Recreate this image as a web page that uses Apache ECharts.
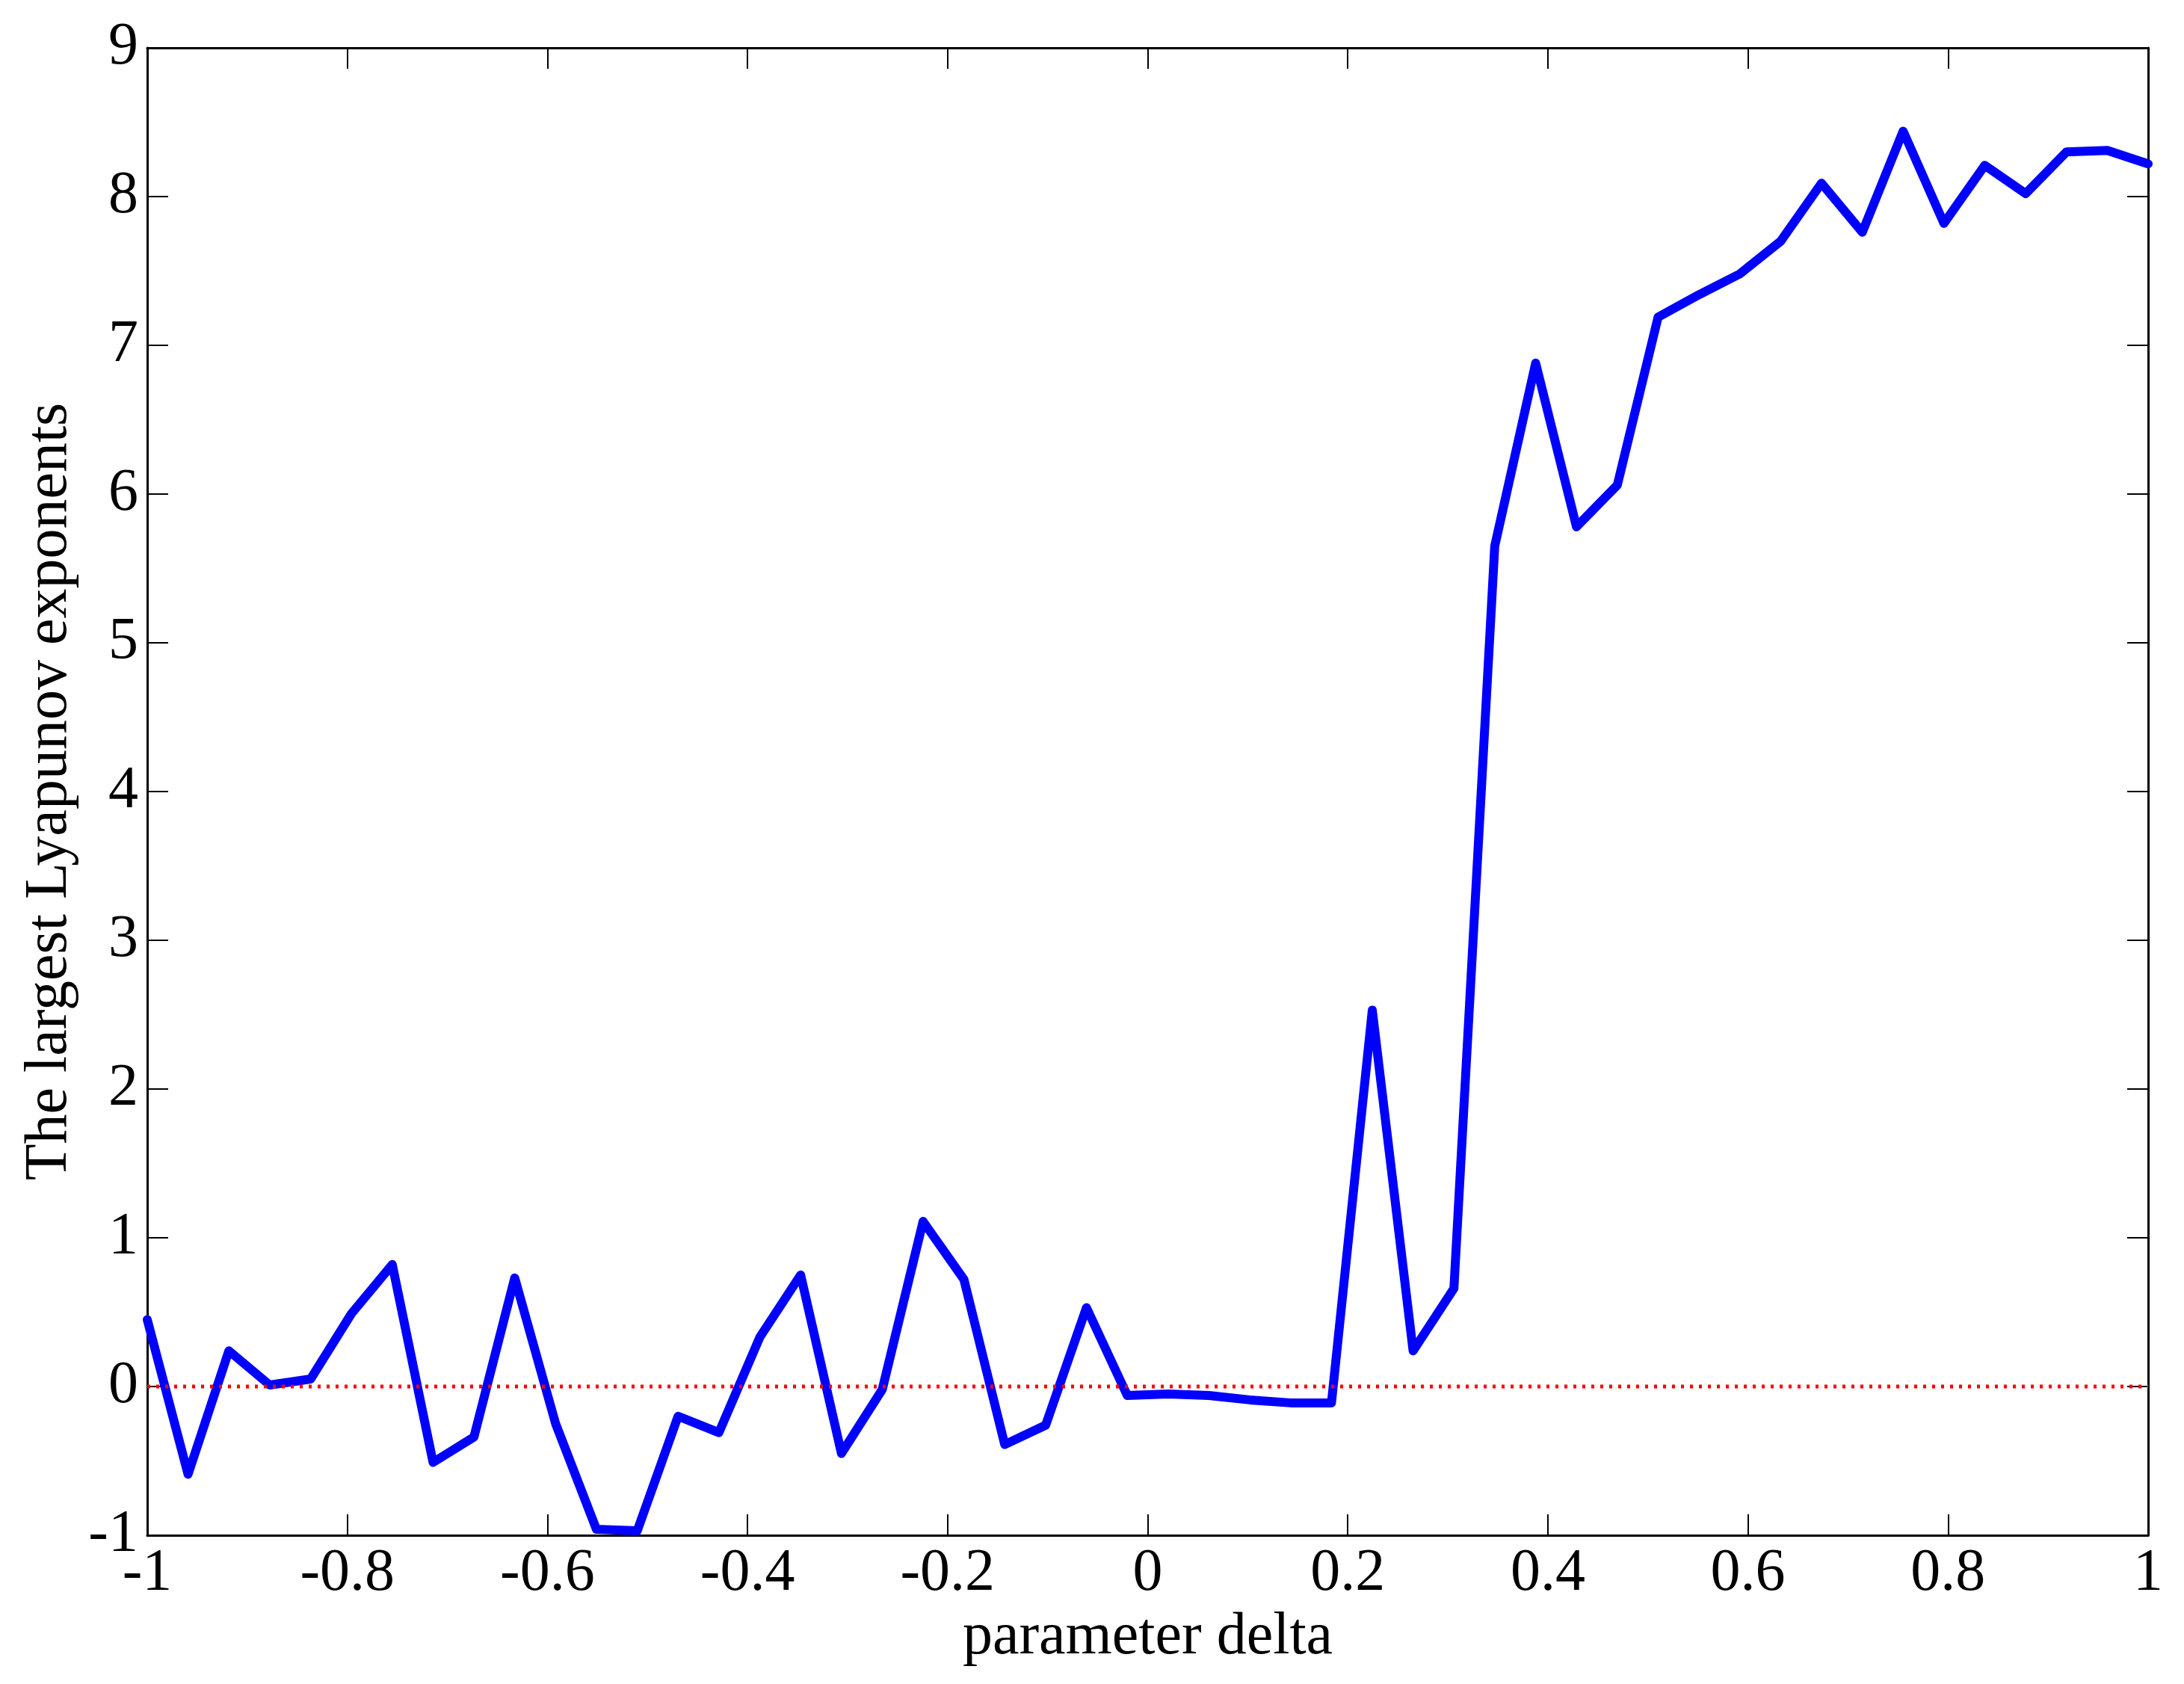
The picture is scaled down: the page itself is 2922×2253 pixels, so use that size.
<!DOCTYPE html>
<html><head><meta charset="utf-8">
<script src="https://cdn.jsdelivr.net/npm/echarts@6/dist/echarts.min.js"></script>
<style>html,body{margin:0;padding:0;background:#fff}#chart{width:2922px;height:2253px}</style>
</head><body><div id="chart"></div>
<script>
// parameter delta (50 samples from -1 to 1)
const deltaValues = [-1.0000, -0.9592, -0.9184, -0.8776, -0.8367, -0.7959, -0.7551, -0.7143, -0.6735, -0.6327,
  -0.5918, -0.5510, -0.5102, -0.4694, -0.4286, -0.3878, -0.3469, -0.3061, -0.2653, -0.2245,
  -0.1837, -0.1429, -0.1020, -0.0612, -0.0204, 0.0204, 0.0612, 0.1020, 0.1429, 0.1837,
  0.2245, 0.2653, 0.3061, 0.3469, 0.3878, 0.4286, 0.4694, 0.5102, 0.5510, 0.5918,
  0.6327, 0.6735, 0.7143, 0.7551, 0.7959, 0.8367, 0.8776, 0.9184, 0.9592, 1.0000];
// largest Lyapunov exponent
const lyapunovValues = [0.45, -0.59, 0.24, 0.01, 0.05, 0.49, 0.82, -0.51, -0.34, 0.73,
  -0.25, -0.96, -0.97, -0.20, -0.31, 0.33, 0.75, -0.45, -0.02, 1.11,
  0.72, -0.39, -0.26, 0.53, -0.06, -0.05, -0.06, -0.09, -0.11, -0.11,
  2.53, 0.24, 0.66, 5.65, 6.88, 5.78, 6.06, 7.19, 7.34, 7.48,
  7.70, 8.09, 7.76, 8.44, 7.82, 8.21, 8.02, 8.30, 8.31, 8.22];
// zero reference line
const zeroLineX = [-1, 1];
const zeroLineY = [0, 0];
// axes
const xTickLabels = ['-1', '-0.8', '-0.6', '-0.4', '-0.2', '0', '0.2', '0.4', '0.6', '0.8', '1'];
const yTickLabels = ['-1', '0', '1', '2', '3', '4', '5', '6', '7', '8', '9'];
const xTitle = 'parameter delta';
const yTitle = 'The largest Lyapunov exponents';

const FONT = 'Liberation Serif';
const chart = echarts.init(document.getElementById('chart'), null, {renderer: 'canvas'});
const lineData = deltaValues.map((x, i) => [x, lyapunovValues[i]]);
const zeroData = zeroLineX.map((x, i) => [x, zeroLineY[i]]);
const axisLine = {show: true, onZero: false, lineStyle: {color: '#000', width: 3}};
const tickStyle = {show: true, inside: true, length: 28, lineStyle: {color: '#000', width: 2}};
const xMin = Number(xTickLabels[0]), xMax = Number(xTickLabels[xTickLabels.length - 1]);
const yMin = Number(yTickLabels[0]), yMax = Number(yTickLabels[yTickLabels.length - 1]);

chart.setOption({
  animation: false,
  backgroundColor: '#fff',
  grid: {left: 197, right: 48, top: 64, bottom: 199, containLabel: false},
  xAxis: [{
    type: 'value', min: xMin, max: xMax, interval: 0.2, position: 'bottom',
    axisLine: axisLine, axisTick: tickStyle, splitLine: {show: false},
    axisLabel: {fontFamily: FONT, fontSize: 80, color: '#000', margin: 12,
      formatter: v => { const i = Math.round((v - xMin) / 0.2); return xTickLabels[i] ?? ''; }},
    name: xTitle, nameLocation: 'middle', nameGap: 74,
    nameTextStyle: {fontFamily: FONT, fontSize: 80, color: '#000'}
  }, {
    type: 'value', min: xMin, max: xMax, interval: 0.2, position: 'top',
    axisLine: axisLine, axisTick: tickStyle, axisLabel: {show: false}, splitLine: {show: false}
  }],
  yAxis: [{
    type: 'value', min: yMin, max: yMax, interval: 1, position: 'left',
    axisLine: axisLine, axisTick: tickStyle, splitLine: {show: false},
    axisLabel: {fontFamily: FONT, fontSize: 80, color: '#000', margin: 12,
      formatter: v => { const i = Math.round(v - yMin); return yTickLabels[i] ?? ''; }},
    name: yTitle, nameLocation: 'middle', nameGap: 90,
    nameTextStyle: {fontFamily: FONT, fontSize: 80, color: '#000'}
  }, {
    type: 'value', min: yMin, max: yMax, interval: 1, position: 'right',
    axisLine: axisLine, axisTick: tickStyle, axisLabel: {show: false}, splitLine: {show: false}
  }],
  series: [{
    type: 'line', data: lineData, xAxisIndex: 0, yAxisIndex: 0,
    showSymbol: false, symbol: 'none', z: 3,
    lineStyle: {color: '#0000ff', width: 12, join: 'round', cap: 'round'}
  }, {
    type: 'line', data: zeroData, xAxisIndex: 0, yAxisIndex: 0,
    showSymbol: false, symbol: 'none', z: 4,
    lineStyle: {color: '#ff0000', width: 5, type: [4, 8]}
  }]
});
</script></body></html>
